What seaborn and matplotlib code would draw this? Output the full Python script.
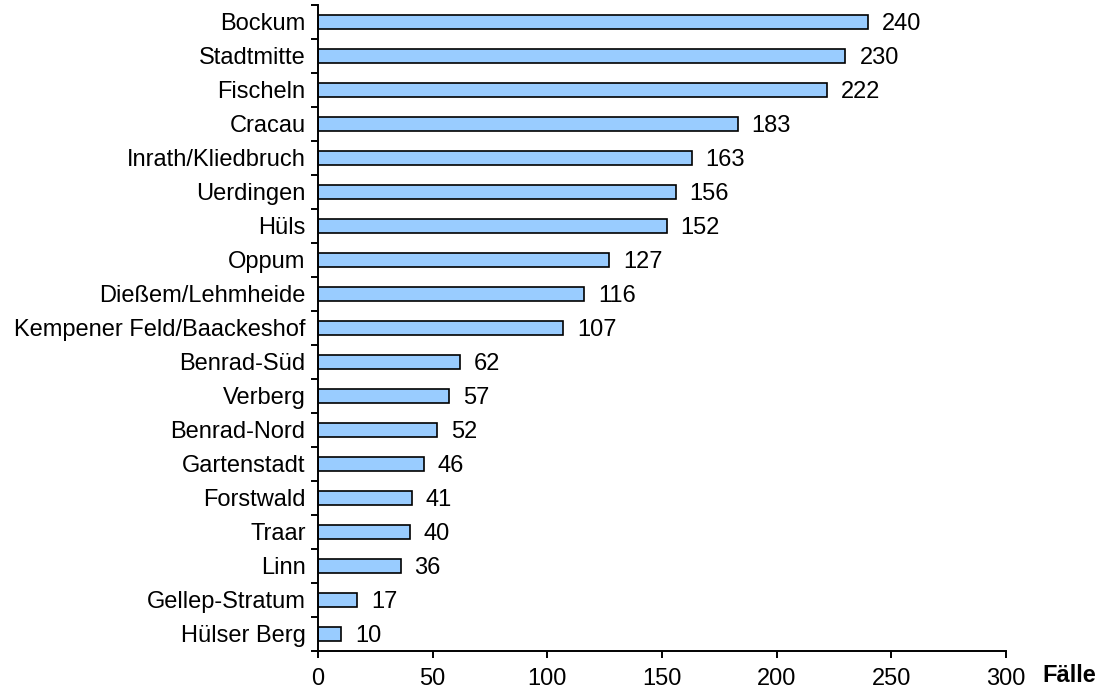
import matplotlib
matplotlib.use("Agg")
import matplotlib.pyplot as plt
import seaborn as sns
import pandas as pd
import numpy as np

districts = ["Bockum", "Stadtmitte", "Fischeln", "Cracau", "Inrath/Kliedbruch", "Uerdingen",
             "Hüls", "Oppum", "Dießem/Lehmheide", "Kempener Feld/Baackeshof", "Benrad-Süd",
             "Verberg", "Benrad-Nord", "Gartenstadt", "Forstwald", "Traar", "Linn",
             "Gellep-Stratum", "Hülser Berg"]
cases = [240, 230, 222, 183, 163, 156, 152, 127, 116, 107, 62, 57, 52, 46, 41, 40, 36, 17, 10]
x_ticks = [0, 50, 100, 150, 200, 250, 300]
x_label = "Fälle"

sns.set_style("white")
plt.rcParams['font.family'] = ['Liberation Sans', 'DejaVu Sans']
plt.rcParams['text.color'] = 'black'
plt.rcParams['xtick.color'] = 'black'
plt.rcParams['ytick.color'] = 'black'
FS = 17

df = pd.DataFrame({"Stadtteil": districts, "Fälle": cases})

fig = plt.figure(figsize=(11.02, 6.94), dpi=100)
ax = fig.add_axes([0.2886, 0.062, 0.9129 - 0.2886, 0.9928 - 0.062])
sns.barplot(data=df, y="Stadtteil", x="Fälle", orient="h", color="#99CCFF",
            edgecolor="black", linewidth=1.2, width=0.4, saturation=1, ax=ax)

for c in ax.containers:
    texts = ax.bar_label(c, labels=[str(v) for v in cases], padding=10, fontsize=FS, color="black")
    for t in texts:
        t.set_va("center_baseline")

ax.set_xlim(0, 300)
ax.set_ylim(len(districts) - 0.5, -0.5)
ax.set_xticks(x_ticks)
ax.set_xticklabels([str(t) for t in x_ticks], fontsize=FS)
ax.set_yticks(range(len(districts)))
ax.set_yticklabels(districts, fontsize=FS)
ax.set_yticks(np.arange(len(districts) + 1) - 0.5, minor=True)
ax.tick_params(axis="y", which="major", length=0, pad=9)
ax.tick_params(axis="y", which="minor", length=5, width=1.4, direction="out", color="black", left=True)
ax.tick_params(axis="x", which="major", length=5, width=1.4, direction="out", color="black", bottom=True, pad=7)
ax.set_xlabel("")
ax.set_ylabel("")
for s in ["top", "right"]:
    ax.spines[s].set_visible(False)
for s in ["left", "bottom"]:
    ax.spines[s].set_color("black")
    ax.spines[s].set_linewidth(1.4)
ax.text(1042 / 1102, 1 - 675 / 694, x_label, transform=fig.transFigure, fontsize=FS,
        fontweight="bold", va="center", ha="left")

fig.savefig("out.png", dpi=100)
